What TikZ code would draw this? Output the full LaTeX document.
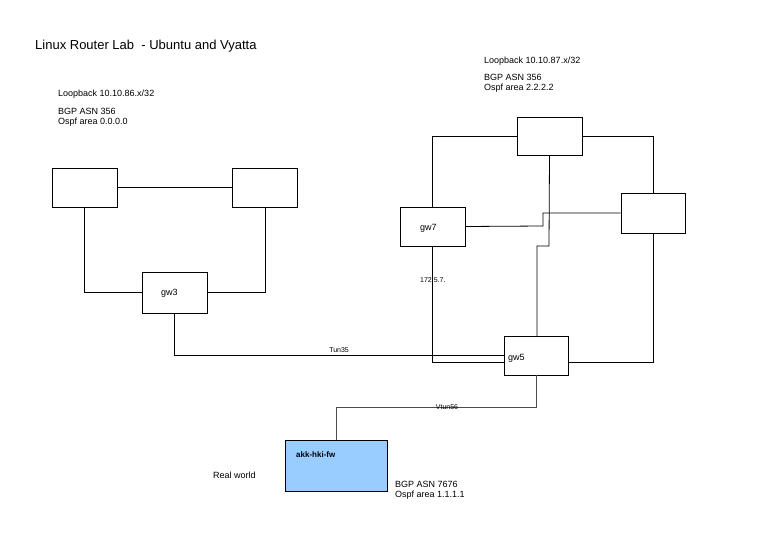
\documentclass[tikz,border=0pt]{standalone}
\usepackage{fontspec}
\setmainfont{Liberation Sans}
\begin{document}
\begin{tikzpicture}[x=1pt,y=-1pt,
  box/.style={draw,thick,minimum width=65pt,minimum height=39pt,inner sep=0pt},
  lbl/.style={font=\fontsize{9}{10.5}\selectfont,anchor=west,align=left,inner sep=0pt},
  ln/.style={thick}]
\useasboundingbox (0,0) rectangle (768,543);
\node[anchor=west,inner sep=0pt,font=\fontsize{13}{15}\selectfont] (title) at (35,46) {Linux Router Lab\ \ - Ubuntu and Vyatta};
\node[lbl] (l1) at (58,94) {Loopback 10.10.86.x/32};
\node[lbl,anchor=north west] (l2) at (58,108) {BGP ASN 356\\Ospf area 0.0.0.0};
\node[lbl] (r1) at (484,61) {Loopback 10.10.87.x/32};
\node[lbl,anchor=north west] (r2) at (484,74) {BGP ASN 356\\Ospf area 2.2.2.2};
% left cluster
\node[box] (a) at (84.5,187.5) {};
\node[box] (b) at (265,187.5) {};
\node[box,minimum height=41pt] (gw3) at (174.5,292.5) {};
\node[lbl] at (161,293) {gw3};
% right cluster
\node[box,minimum height=38pt] (t) at (549.5,136) {};
\node[box] (gw7) at (432.5,226.5) {};
\node[lbl] at (420,228) {gw7};
\node[box,minimum width=64pt,minimum height=40pt] (r) at (653,213) {};
\node[box,minimum width=64pt] (gw5) at (536,355.5) {};
\node[lbl] at (508,358) {gw5};
\node[lbl,font=\fontsize{7}{8}\selectfont] (ip) at (420,280) {172.5.7.};
% akk
\node[draw,thick,fill={rgb,255:red,153;green,204;blue,255},minimum width=102pt,minimum height=51pt,inner sep=0pt] (akk) at (336,465.5) {};
\node[lbl,font=\bfseries\fontsize{8}{10}\selectfont] at (296,455) {akk-hki-fw};
\node[lbl] at (213,475) {Real world};
\node[lbl,anchor=north west] at (395,481) {BGP ASN 7676\\Ospf area 1.1.1.1};
% connectors left
\draw[ln] (a) -- (b);
\draw[ln] (a.south) |- (gw3.west);
\draw[ln] (b.south) |- (gw3.east);
\draw[ln] (gw3.south) |- node[pos=0.75,above,font=\fontsize{7}{8}\selectfont,inner sep=2pt]{Tun35} (gw5.west |- 0,355);
% connectors right
\draw[ln] (t.west) -| (gw7.north);
\draw[ln] (t.east) -| (r.north);
\draw[ln] (t.south) -- (549,246) -- (537,246) -- (537,336);
\draw[ln] (gw7.east) -- (543,226) -- (543,213) -- (r.west);
\draw[ln] (gw7.south) |- (504,362);
\draw[ln] (r.south) |- (568,362);
\draw[ln,draw=black!70] (gw5.south) |- (akk.north |- 0,407) -- (akk.north);
\node[font=\fontsize{7}{8}\selectfont,inner sep=0pt] (v) at (447,407) {Vtun56};
\end{tikzpicture}
\end{document}
